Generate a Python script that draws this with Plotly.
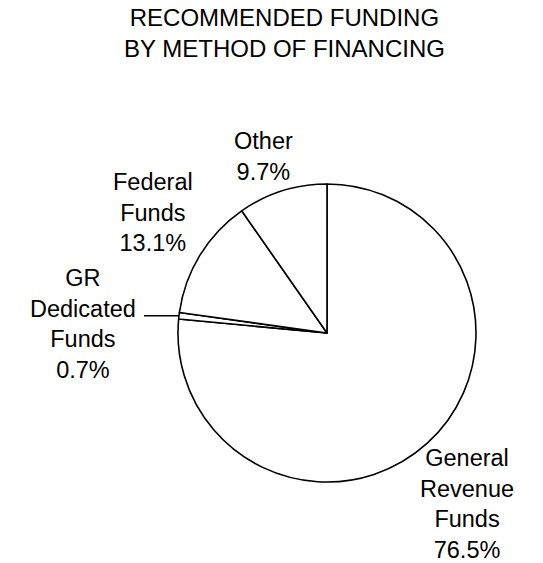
import math
import plotly.graph_objects as go

# ---- data ----
categories = ["General Revenue Funds", "GR Dedicated Funds", "Federal Funds", "Other"]
label_lines = ["General<br>Revenue<br>Funds", "GR<br>Dedicated<br>Funds", "Federal<br>Funds", "Other"]
shares = [76.5, 0.7, 13.1, 9.7]
title_lines = ["RECOMMENDED FUNDING", "BY METHOD OF FINANCING"]

W, H = 543, 563
FONT = "Liberation Sans, Arial, sans-serif"
FS = 23.5

# pie geometry (pixels)
cx, cy, r = 327, 333, 149
dom_x = [(cx - r) / W, (cx + r) / W]
dom_y = [(H - cy - r) / H, (H - cy + r) / H]

fig = go.Figure(go.Pie(
    labels=categories,
    values=shares,
    sort=False,
    direction="clockwise",
    rotation=0,
    marker=dict(colors=["white"] * len(shares), line=dict(color="black", width=1.6)),
    textinfo="none",
    hoverinfo="none",
    showlegend=False,
    domain=dict(x=dom_x, y=dom_y),
))

# label positions (pixel centers of text blocks)
label_pos = [(467, 504), (83, 324), (153, 212), (263, 156)]
annotations = []
for txt, v, (px, py) in zip(label_lines, shares, label_pos):
    annotations.append(dict(
        text=f"{txt}<br>{v}%", x=px / W, y=1 - py / H, xref="paper", yref="paper",
        xanchor="center", yanchor="middle", showarrow=False, align="center",
        font=dict(family=FONT, size=FS, color="black"),
    ))

annotations.append(dict(
    text="<br>".join(title_lines), x=284 / W, y=1 - 33 / H, xref="paper", yref="paper",
    xanchor="center", yanchor="middle", showarrow=False, align="center",
    font=dict(family=FONT, size=24, color="black"),
))

# leader line for the small GR Dedicated slice, computed from the data
total = sum(shares)
start = sum(shares[:1])
mid_frac = (start + shares[1] / 2) / total
ang = 2 * math.pi * mid_frac  # clockwise from 12 o'clock
ex = cx + r * math.sin(ang)
ey = cy - r * math.cos(ang)
shapes = [dict(type="line", xref="paper", yref="paper",
               x0=144 / W, y0=1 - ey / H, x1=ex / W, y1=1 - ey / H,
               line=dict(color="black", width=1.6))]

fig.update_layout(
    width=W, height=H,
    margin=dict(l=0, r=0, t=0, b=0),
    paper_bgcolor="white", plot_bgcolor="white",
    annotations=annotations, shapes=shapes,
    font=dict(family=FONT, color="black"),
)

fig.write_html("out.html", config={"displayModeBar": False},
               post_script="document.body.style.margin='0px';")
